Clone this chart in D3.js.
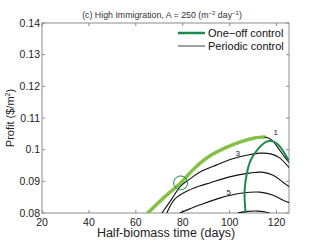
<!DOCTYPE html>
<html>
<head>
<meta charset="utf-8">
<script src="https://cdn.jsdelivr.net/npm/d3@7"></script>
<style>
  body { margin: 0; background: #fff; }
  text { font-family: "Liberation Sans", Arial, sans-serif; }
</style>
</head>
<body>
<svg id="mainsvg" width="321" height="241"></svg>
<script>
// data
const xTicks = [20, 40, 60, 80, 100, 120];
const yTicks = [0.08, 0.09, 0.1, 0.11, 0.12, 0.13, 0.14];

// one-off control: upper envelope (light green) and the dark green loop
const envDays   = [65.1, 72.3, 79.1, 85.1, 91.5, 97.9, 104.3, 110.6, 114.9];
const envProfit = [0.0800, 0.0851, 0.0895, 0.0942, 0.0980, 0.1005, 0.1024, 0.1037, 0.1040];
const oneOffDays   = [106.8, 106.4, 106.4, 107.2, 108.5, 110.2, 112.8, 115.3, 117.9, 120.4, 123.0, 125.5];
const oneOffProfit = [0.0800, 0.0841, 0.0873, 0.0920, 0.0958, 0.0983, 0.1008, 0.1024, 0.1027, 0.1018, 0.0993, 0.0961];

// periodic control curves (number of applications)
const p1Days   = [65.1, 72.3, 79.1, 85.1, 91.5, 97.9, 104.3, 110.6, 114.9, 117.9, 120.4, 123.4, 125.5];
const p1Profit = [0.0800, 0.0851, 0.0895, 0.0942, 0.0980, 0.1005, 0.1024, 0.1037, 0.1040, 0.1031, 0.1008, 0.0977, 0.0958];
const p3Days   = [71.1, 75.3, 79.1, 83.0, 87.2, 94.5, 101.3, 107.7, 112.8, 117.9, 121.3, 125.5];
const p3Profit = [0.0800, 0.0844, 0.0885, 0.0907, 0.0929, 0.0952, 0.0971, 0.0983, 0.0989, 0.0986, 0.0974, 0.0942];
const p4Days   = [73.2, 76.6, 81.7, 87.2, 91.5, 100.0, 108.5, 113.6, 118.3, 122.6, 125.5];
const p4Profit = [0.0800, 0.0844, 0.0869, 0.0885, 0.0895, 0.0914, 0.0926, 0.0929, 0.0920, 0.0898, 0.0882];
const p5Days   = [78.7, 83.0, 87.2, 95.7, 105.5, 112.8, 118.3, 122.6, 125.5];
const p5Profit = [0.0800, 0.0813, 0.0825, 0.0847, 0.0863, 0.0866, 0.0857, 0.0841, 0.0832];
const p6Days   = [103.4, 107.7, 111.9, 115.3, 117.0];
const p6Profit = [0.0800, 0.0805, 0.0806, 0.0803, 0.0800];

const curveLabels = ['1', '3', '5'];
const labelDays   = [119.6, 103.4, 99.6];
const labelProfit = [0.1046, 0.0979, 0.0857];
const optimumDay = 79.1, optimumProfit = 0.0895;

const svg = d3.select('#mainsvg');
const margin = {top: 23, right: 32, bottom: 28, left: 42};
const innerWidth = 321 - margin.left - margin.right;
const innerHeight = 241 - margin.top - margin.bottom;

const xScale = d3.scaleLinear().domain([20, 125.3]).range([0, innerWidth]);
const yScale = d3.scaleLinear().domain([0.08, 0.14]).range([innerHeight, 0]);

const g = svg.append('g').attr('transform', `translate(${margin.left}, ${margin.top})`);

svg.append('defs').append('clipPath').attr('id', 'clip')
  .append('rect').attr('width', innerWidth).attr('height', innerHeight);

// frame
g.append('rect').attr('width', innerWidth).attr('height', innerHeight)
  .attr('fill', 'none').attr('stroke', '#8c8c8c').attr('stroke-width', 1);

// ticks inward on all four sides
const tickLen = 3;
xTicks.forEach(t => {
  const x = xScale(t);
  g.append('line').attr('x1', x).attr('x2', x).attr('y1', innerHeight).attr('y2', innerHeight - tickLen).attr('stroke', '#8c8c8c');
  g.append('line').attr('x1', x).attr('x2', x).attr('y1', 0).attr('y2', tickLen).attr('stroke', '#8c8c8c');
  g.append('text').attr('x', x).attr('y', innerHeight + 13).attr('text-anchor', 'middle')
    .attr('font-size', 10.5).attr('fill', '#222').text(t);
});
yTicks.forEach(t => {
  const y = yScale(t);
  g.append('line').attr('x1', 0).attr('x2', tickLen).attr('y1', y).attr('y2', y).attr('stroke', '#8c8c8c');
  g.append('line').attr('x1', innerWidth).attr('x2', innerWidth - tickLen).attr('y1', y).attr('y2', y).attr('stroke', '#8c8c8c');
  g.append('text').attr('x', -2).attr('y', y + 3.5).attr('text-anchor', 'end')
    .attr('font-size', 10.5).attr('fill', '#222').text(d3.format('~g')(t));
});

const line = d3.line().x(d => xScale(d[0])).y(d => yScale(d[1])).curve(d3.curveCatmullRom);
const plot = g.append('g').attr('clip-path', 'url(#clip)');

// light green envelope below the black curves
plot.append('path').datum(d3.zip(envDays, envProfit)).attr('d', line)
  .attr('fill', 'none').attr('stroke', '#8cc94f').attr('stroke-width', 3.5).attr('stroke-linecap', 'round');

[[p1Days, p1Profit], [p3Days, p3Profit], [p4Days, p4Profit], [p5Days, p5Profit], [p6Days, p6Profit]]
  .forEach(([dd, pp]) => {
    plot.append('path').datum(d3.zip(dd, pp)).attr('d', line)
      .attr('fill', 'none').attr('stroke', '#111').attr('stroke-width', 1.1);
  });

// re-draw the green envelope on top where it covers curve 1
plot.append('path').datum(d3.zip(envDays, envProfit)).attr('d', line)
  .attr('fill', 'none').attr('stroke', '#8cc94f').attr('stroke-width', 3).attr('opacity', 0.9);

plot.append('path').datum(d3.zip(oneOffDays, oneOffProfit)).attr('d', line)
  .attr('fill', 'none').attr('stroke', '#1b8a4c').attr('stroke-width', 2);

g.append('circle').attr('cx', xScale(optimumDay)).attr('cy', yScale(optimumProfit)).attr('r', 7)
  .attr('fill', 'none').attr('stroke', '#1b8a4c').attr('stroke-width', 1);

curveLabels.forEach((l, i) => {
  g.append('text').attr('x', xScale(labelDays[i])).attr('y', yScale(labelProfit[i]))
    .attr('text-anchor', 'middle').attr('font-size', 8).attr('fill', '#222').text(l);
});

// legend
const legend = g.append('g');
legend.append('line').attr('x1', 136).attr('x2', 163).attr('y1', 10).attr('y2', 10)
  .attr('stroke', '#1b8a4c').attr('stroke-width', 2.5);
legend.append('text').attr('x', 166).attr('y', 14).attr('font-size', 11).attr('fill', '#111').text('One\u2212off control');
legend.append('line').attr('x1', 136).attr('x2', 163).attr('y1', 23).attr('y2', 23)
  .attr('stroke', '#444').attr('stroke-width', 1);
legend.append('text').attr('x', 166).attr('y', 27).attr('font-size', 11).attr('fill', '#111').text('Periodic control');

// title
const title = svg.append('text').attr('x', 162).attr('y', 18).attr('text-anchor', 'middle')
  .attr('font-size', 8.8).attr('fill', '#333');
title.append('tspan').text('(c) High Immigration, A = 250 (m');
title.append('tspan').attr('font-size', 6).attr('dy', -3).text('\u22122');
title.append('tspan').attr('dy', 3).text(' day');
title.append('tspan').attr('font-size', 6).attr('dy', -3).text('\u22121');
title.append('tspan').attr('dy', 3).text(')');

// axis labels
svg.append('text').attr('x', 166).attr('y', 237).attr('text-anchor', 'middle')
  .attr('font-size', 12.5).attr('fill', '#222').text('Half-biomass time (days)');
const yl = svg.append('text').attr('transform', 'translate(14, 118) rotate(-90)')
  .attr('text-anchor', 'middle').attr('font-size', 11).attr('fill', '#222');
yl.append('tspan').text('Profit ($/m');
yl.append('tspan').attr('font-size', 7).attr('dy', -4).text('2');
yl.append('tspan').attr('dy', 4).text(')');
</script>
</body>
</html>
